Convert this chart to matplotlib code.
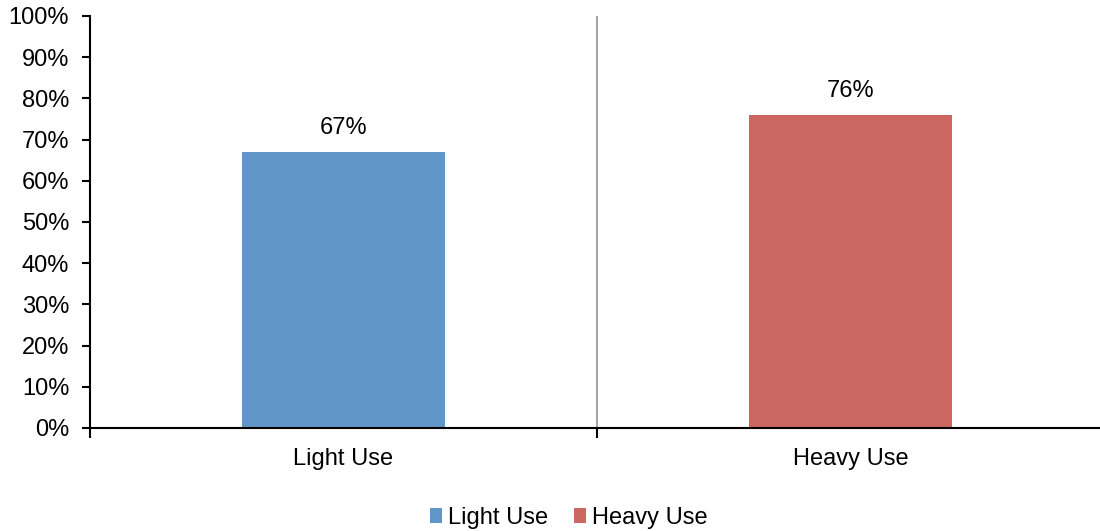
import numpy as np
import matplotlib.pyplot as plt
from matplotlib.ticker import FuncFormatter

plt.rcParams['font.family'] = ['Liberation Sans', 'DejaVu Sans']

categories = ['Light Use', 'Heavy Use']
values = [67, 76]
colors = ['#6196C9', '#CC6660']
yticks = list(range(0, 101, 10))

fig = plt.figure(figsize=(11, 5.31), dpi=100)
ax = fig.add_axes([0.0818, 0.194, 0.9218, 0.776])

x = np.arange(len(categories))
bars = ax.bar(x, values, width=0.4, color=colors, label=categories, zorder=2)

for xi, v in zip(x, values):
    ax.annotate(f'{v}%', (xi, v), xytext=(0, 9.5), textcoords='offset points',
                ha='center', va='bottom', fontsize=17)

# category separator line
ax.axvline(0.5, color='#A6A6A6', lw=1.5, zorder=1)

ax.set_xlim(-0.5, 1.5)
ax.set_ylim(0, 100)
ax.set_yticks(yticks)
ax.yaxis.set_major_formatter(FuncFormatter(lambda v, p: f'{v:.0f}%'))
ax.tick_params(axis='y', labelsize=17, length=6, width=1.5, direction='out', pad=9)

ax.set_xticks([-0.5, 0.5, 1.5])
ax.set_xticklabels([])
ax.set_xticks(x, minor=True)
ax.set_xticklabels(categories, minor=True)
ax.tick_params(axis='x', which='major', length=7, width=1.5, direction='out')
ax.tick_params(axis='x', which='minor', length=0, labelsize=17, pad=14.5)

for s in ['top', 'right']:
    ax.spines[s].set_visible(False)
for s in ['left', 'bottom']:
    ax.spines[s].set_linewidth(1.5)

fig.legend(handles=bars, labels=categories, loc='lower center', bbox_to_anchor=(0.517, -0.036),
           ncol=2, frameon=False, fontsize=17, handlelength=0.5, handleheight=0.55,
           handletextpad=0.25, columnspacing=1.1)

fig.savefig('out.png', dpi=100)
